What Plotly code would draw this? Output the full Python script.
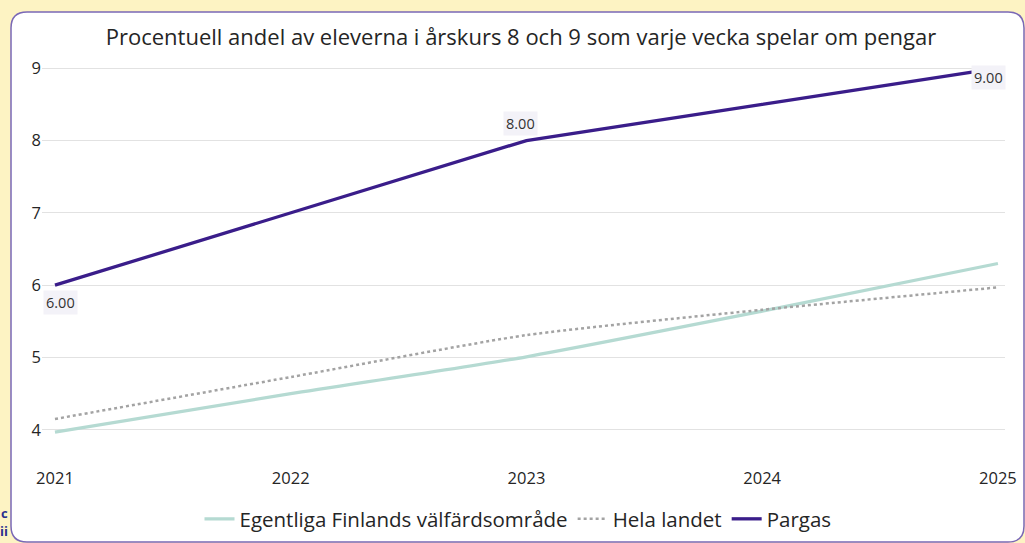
import plotly.graph_objects as go

years = [2021, 2022, 2023, 2024, 2025]
egentliga = [3.97, 4.50, 5.01, 5.64, 6.30]
hela_landet = [4.15, 4.73, 5.31, 5.66, 5.97]
pargas = [6.0, 7.0, 8.0, 8.5, 9.0]
label_idx = [0, 2, 4]
y_ticks = [4, 5, 6, 7, 8, 9]
x_ticks = years

title_text = "Procentuell andel av eleverna i årskurs 8 och 9 som varje vecka spelar om pengar"
names = ["Egentliga Finlands välfärdsområde", "Hela landet", "Pargas"]

W, H = 1025, 543
ml, mr, mt, mb = 42, 20, 61, 77
pw, ph = W - ml - mr, H - mt - mb

def px(x):
    return (x - ml) / pw

def py(y):
    return (H - mb - y) / ph

font = "Segoe UI, Open Sans, sans-serif"

fig = go.Figure()
fig.add_trace(go.Scatter(x=years, y=egentliga, mode="lines", name=names[0],
                         line=dict(color="#b5dad2", width=3.3, shape="spline", smoothing=0.6)))
fig.add_trace(go.Scatter(x=years, y=hela_landet, mode="lines", name=names[1],
                         line=dict(color="#a3a3a3", width=2.5, dash="dot", shape="spline", smoothing=0.6)))
fig.add_trace(go.Scatter(x=years, y=pargas, mode="lines", name=names[2],
                         line=dict(color="#3a1d8a", width=3.3)))

# rounded panel
x0, y0, x1, y1, r = px(11), py(12), px(1024), py(542), 16
rx, ry = r / pw, r / ph
path = (f"M {x0+rx},{y0} L {x1-rx},{y0} Q {x1},{y0} {x1},{y0-ry} "
        f"L {x1},{y1+ry} Q {x1},{y1} {x1-rx},{y1} L {x0+rx},{y1} "
        f"Q {x0},{y1} {x0},{y1+ry} L {x0},{y0-ry} Q {x0},{y0} {x0+rx},{y0} Z")
shapes = [dict(type="path", path=path, xref="paper", yref="paper",
               fillcolor="white", line=dict(color="#7a68b6", width=1.5), layer="below")]

offsets = {0: (6, -17), 2: (-6, 17), 4: (-9, -9)}
annotations = []
for i in label_idx:
    dx, dy = offsets[i]
    annotations.append(dict(x=years[i], y=pargas[i], text=f"{pargas[i]:.2f}", showarrow=False,
                            xshift=dx, yshift=dy, bgcolor="#f3f2f8", borderpad=2,
                            font=dict(size=14.5, color="#333333", family=font)))
annotations.append(dict(x=px(10), y=py(513), xref="paper", yref="paper", text="<b>c</b>",
                        xanchor="right", yanchor="middle",
                        showarrow=False, font=dict(size=13, color="#2b2f8f", family=font)))
annotations.append(dict(x=px(10), y=py(531), xref="paper", yref="paper", text="<b>ii</b>",
                        xanchor="right", yanchor="middle",
                        showarrow=False, font=dict(size=13, color="#2b2f8f", family=font)))

fig.update_layout(
    width=W, height=H,
    margin=dict(l=ml, r=mr, t=mt, b=mb, autoexpand=False),
    paper_bgcolor="#fdf3c3",
    plot_bgcolor="rgba(0,0,0,0)",
    title=dict(text=title_text, x=521 / W, xanchor="center", y=1 - 37 / H, yanchor="middle",
               font=dict(size=22, color="#252525", family=font)),
    xaxis=dict(range=[2020.945, 2025.03], tickvals=x_ticks, ticktext=[str(v) for v in x_ticks],
               showgrid=False, zeroline=False, showline=False, automargin=False,
               tickfont=dict(size=16.5, color="#252525", family=font)),
    yaxis=dict(range=[3.5, 9.1], tickvals=y_ticks, showgrid=True, gridcolor="#e2e2e2", gridwidth=1,
               zeroline=False, showline=False, automargin=False,
               tickfont=dict(size=16.5, color="#252525", family=font)),
    legend=dict(orientation="h", xref="container", yref="container", x=518 / W, xanchor="center",
                y=1 - 519 / H, yanchor="middle",
                font=dict(size=20.5, color="#252525", family=font), bgcolor="rgba(0,0,0,0)"),
    shapes=shapes,
    annotations=annotations,
    showlegend=True,
)

fig.write_html("out.html",
               config={"displayModeBar": False, "responsive": False},
               post_script="document.body.style.margin='0';")
